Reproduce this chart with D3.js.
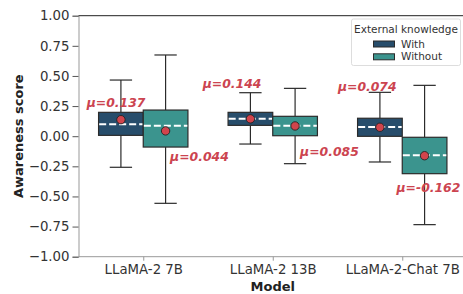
<!DOCTYPE html>
<html>
<head>
<meta charset="utf-8">
<script src="https://cdn.jsdelivr.net/npm/d3@7"></script>
<style>
  body { margin: 0; background: #fff; }
  text { font-family: "DejaVu Sans", sans-serif; }
</style>
</head>
<body>
<div id="chartdiv"></div>
<script>
// data
var models = ["LLaMA-2 7B", "LLaMA-2 13B", "LLaMA-2-Chat 7B"];
var groups = ["With", "Without"];
var groupColors = ["#274d6b", "#3b948e"];

// [whisker low, q1, median, q3, whisker high] per model
var withStats = [
    [-0.258, 0.007, 0.099, 0.198, 0.466],
    [-0.065, 0.090, 0.145, 0.198, 0.361],
    [-0.214, -0.001, 0.076, 0.149, 0.364]
];
var withoutStats = [
    [-0.557, -0.090, 0.087, 0.217, 0.674],
    [-0.228, 0.004, 0.087, 0.165, 0.397],
    [-0.734, -0.311, -0.159, -0.009, 0.422]
];
var withMeans = [0.137, 0.144, 0.074];
var withoutMeans = [0.044, 0.085, -0.162];

// where the mean labels sit (x in category units, y in score units)
var withLabelAt = [[-0.21, 0.278], [0.686, 0.433], [1.73, 0.411]];
var withoutLabelAt = [[0.434, -0.170], [1.438, -0.129], [2.202, -0.424]];

var yTicks = [-1, -0.75, -0.5, -0.25, 0, 0.25, 0.5, 0.75, 1];

var W = 463, H = 294;
var margin = {top: 15.7, left: 78.5, bottom: 37.3};
var plotRight = 467; // the figure is cut off at the right edge

var svg = d3.select("#chartdiv").append("svg")
    .attr("width", W)
    .attr("height", H);

var xScale = d3.scaleLinear()
    .domain([-0.5, 2.5])
    .range([margin.left, plotRight]);
var yScale = d3.scaleLinear()
    .domain([-1, 1])
    .range([H - margin.bottom, margin.top]);

var unit = xScale(1) - xScale(0);
var boxW = unit * 0.345;
var hueOffset = [-0.1725, 0.1725];

// axes
var yAxis = d3.axisLeft(yScale)
    .tickValues(yTicks)
    .tickSize(6)
    .tickPadding(3)
    .tickFormat(function(d) { return d3.format(".2f")(d).replace("-", "\u2212"); });
var gy = svg.append("g")
    .attr("transform", "translate(" + margin.left + ",0)")
    .call(yAxis);
gy.select(".domain").attr("stroke", "#999");
gy.selectAll(".tick line").attr("stroke", "#555");
gy.selectAll(".tick text").attr("font-size", 13.3).attr("fill", "#333")
    .style("font-family", "DejaVu Sans");

var xAxis = d3.axisBottom(xScale)
    .tickValues([0, 1, 2])
    .tickSize(4)
    .tickPadding(4)
    .tickFormat(function(d) { return models[d]; });
var gx = svg.append("g")
    .attr("transform", "translate(0," + yScale(-1) + ")")
    .call(xAxis);
gx.select(".domain").attr("stroke", "#999").attr("d", "M" + margin.left + ",0H" + plotRight);
gx.selectAll(".tick line").attr("stroke", "#999");
gx.selectAll(".tick text").attr("font-size", 13.3).attr("fill", "#333")
    .style("font-family", "DejaVu Sans");

// top spine
svg.append("line")
    .attr("x1", margin.left).attr("x2", plotRight)
    .attr("y1", yScale(1)).attr("y2", yScale(1))
    .attr("stroke", "#222").attr("stroke-width", 1);

// axis titles
svg.append("text")
    .attr("transform", "translate(18," + yScale(0) + ") rotate(-90)")
    .attr("text-anchor", "middle")
    .attr("dy", "0.35em")
    .attr("font-size", 13)
    .attr("font-weight", "bold")
    .attr("fill", "#222")
    .text("Awareness score");
svg.append("text")
    .attr("x", xScale(1))
    .attr("y", 291)
    .attr("text-anchor", "middle")
    .attr("font-size", 13)
    .attr("font-weight", "bold")
    .attr("fill", "#222")
    .text("Model");

// boxes
var allStats = [withStats, withoutStats];
var allMeans = [withMeans, withoutMeans];
var allLabels = [withLabelAt, withoutLabelAt];
var edge = "#2b2b2b";

groups.forEach(function(g, gi) {
    var layer = svg.append("g").attr("class", "group-" + g);
    var boxes = layer.selectAll("g.box")
        .data(allStats[gi])
        .enter().append("g")
        .attr("class", "box")
        .attr("transform", function(d, i) {
            return "translate(" + xScale(i + hueOffset[gi]) + ",0)";
        });

    // whisker stems
    boxes.append("line")
        .attr("x1", 0).attr("x2", 0)
        .attr("y1", function(d) { return yScale(d[4]); })
        .attr("y2", function(d) { return yScale(d[3]); })
        .attr("stroke", edge).attr("stroke-width", 1.2);
    boxes.append("line")
        .attr("x1", 0).attr("x2", 0)
        .attr("y1", function(d) { return yScale(d[1]); })
        .attr("y2", function(d) { return yScale(d[0]); })
        .attr("stroke", edge).attr("stroke-width", 1.2);
    // caps
    [0, 4].forEach(function(k) {
        boxes.append("line")
            .attr("x1", -boxW / 4).attr("x2", boxW / 4)
            .attr("y1", function(d) { return yScale(d[k]); })
            .attr("y2", function(d) { return yScale(d[k]); })
            .attr("stroke", edge).attr("stroke-width", 1.2);
    });
    // box
    boxes.append("rect")
        .attr("x", -boxW / 2)
        .attr("width", boxW)
        .attr("y", function(d) { return yScale(d[3]); })
        .attr("height", function(d) { return yScale(d[1]) - yScale(d[3]); })
        .attr("fill", groupColors[gi])
        .attr("stroke", edge)
        .attr("stroke-width", 1.2);
    // median
    boxes.append("line")
        .attr("x1", -boxW / 2 + 0.6).attr("x2", boxW / 2 - 0.6)
        .attr("y1", function(d) { return yScale(d[2]); })
        .attr("y2", function(d) { return yScale(d[2]); })
        .attr("stroke", "#fff")
        .attr("stroke-width", 2)
        .attr("stroke-dasharray", "7,3");
    // mean dot
    boxes.append("circle")
        .attr("r", 4.2)
        .attr("cy", function(d, i) { return yScale(allMeans[gi][i]); })
        .attr("fill", "#d1444c")
        .attr("stroke", "#222")
        .attr("stroke-width", 0.9);

    // mean labels
    layer.selectAll("text.mean")
        .data(allMeans[gi])
        .enter().append("text")
        .attr("class", "mean")
        .attr("x", function(d, i) { return xScale(allLabels[gi][i][0]); })
        .attr("y", function(d, i) { return yScale(allLabels[gi][i][1]); })
        .attr("dy", "0.35em")
        .attr("text-anchor", "middle")
        .attr("font-size", 12.4)
        .attr("font-weight", "bold")
        .attr("font-style", "italic")
        .attr("fill", "#cc4450")
        .text(function(d) { return "\u03bc=" + d.toFixed(3); });
});

// legend
var legend = svg.append("g").attr("transform", "translate(351.5,19)");
legend.append("rect")
    .attr("width", 109).attr("height", 46.5)
    .attr("rx", 2)
    .attr("fill", "#fff").attr("fill-opacity", 0.85)
    .attr("stroke", "#ddd");
legend.append("text")
    .attr("x", 54.5).attr("y", 10)
    .attr("dy", "0.35em")
    .attr("text-anchor", "middle")
    .attr("font-size", 10.5)
    .attr("fill", "#333")
    .text("External knowledge");
groups.forEach(function(g, gi) {
    var row = legend.append("g").attr("transform", "translate(22," + (25 + gi * 12.8) + ")");
    row.append("rect")
        .attr("y", -3).attr("width", 21).attr("height", 6)
        .attr("fill", groupColors[gi]).attr("stroke", edge).attr("stroke-width", 1);
    row.append("text")
        .attr("x", 27.5).attr("dy", "0.35em")
        .attr("font-size", 10.5)
        .attr("fill", "#333")
        .text(g);
});
</script>
</body>
</html>
